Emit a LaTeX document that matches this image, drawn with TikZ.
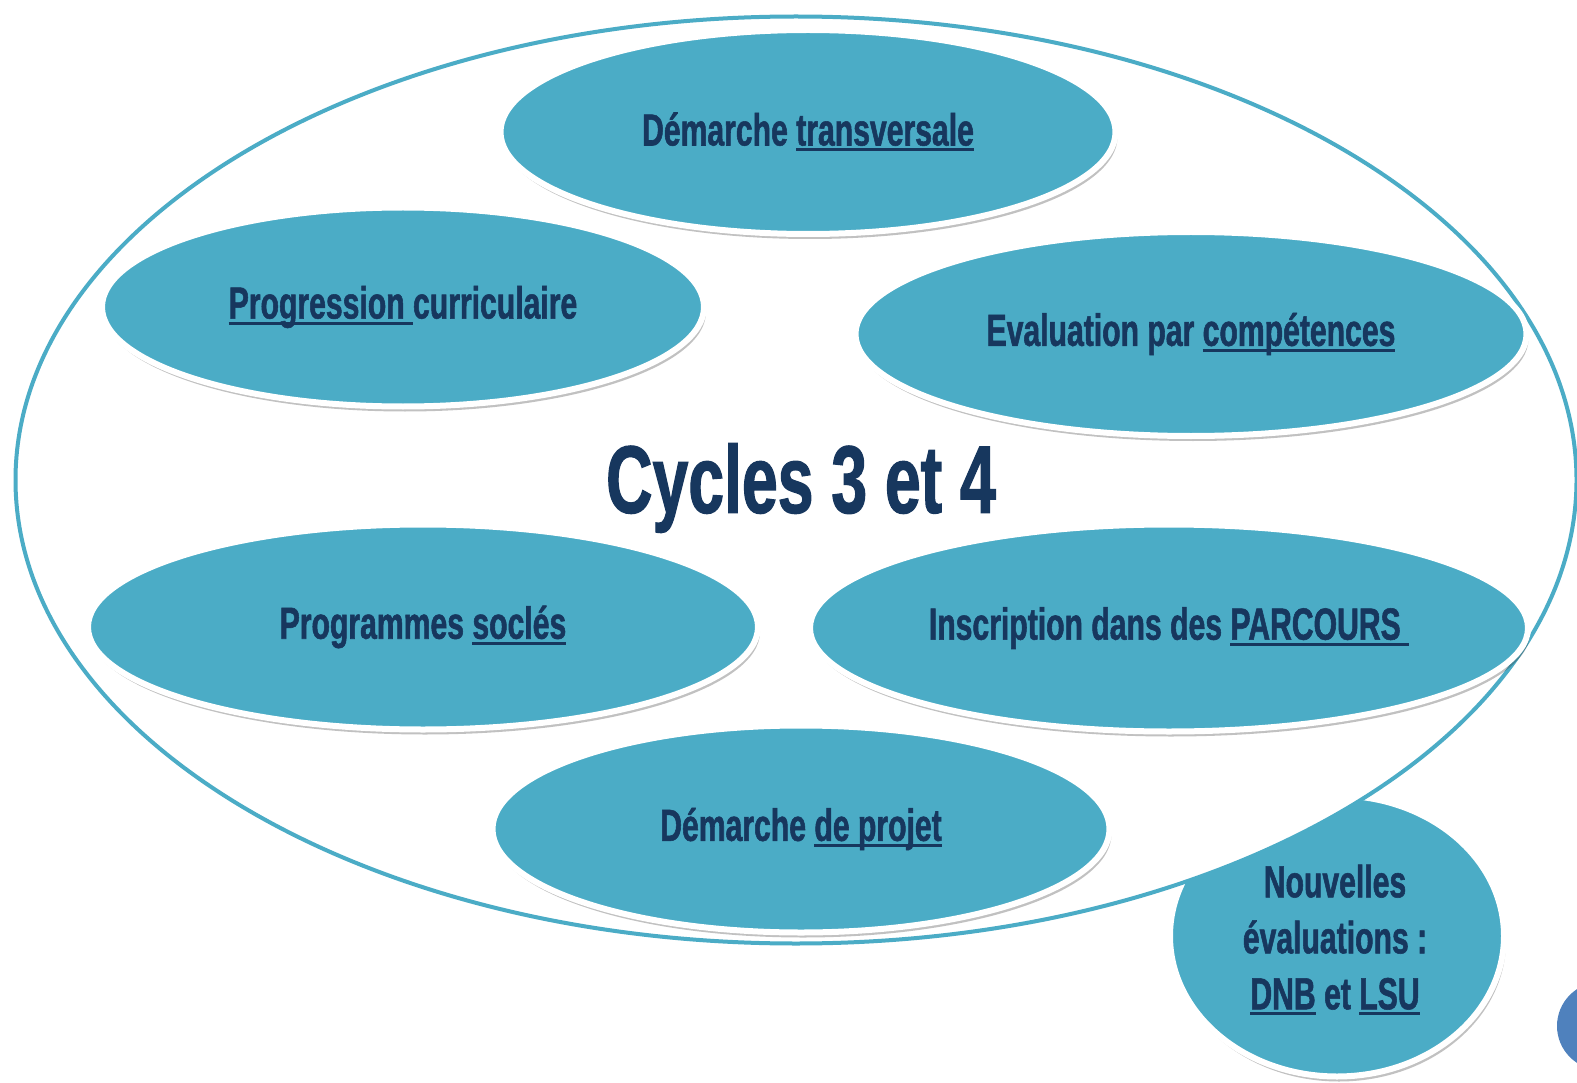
\documentclass[tikz,border=0pt]{standalone}
\usepackage{fontspec}
\newfontfamily\imp{Liberation Sans}[FakeStretch=0.67,FakeBold=1.2]
\usetikzlibrary{shapes.geometric,shadows}
\definecolor{fillblue}{HTML}{4BACC6}
\definecolor{txtblue}{HTML}{17375E}
\definecolor{dotblue}{HTML}{4F81BD}
\newcommand\ulx[1]{\sbox0{#1}\rlap{\rule[-6pt]{\wd0}{3pt}}\usebox0}
\begin{document}
\begin{tikzpicture}[x=1pt,y=-1pt,
  bubble/.style={ellipse, fill=fillblue, draw=white, line width=6pt, inner sep=0pt,
    text=txtblue, font=\imp\bfseries\fontsize{45}{56}\selectfont, align=center,
    drop shadow={shadow xshift=2pt, shadow yshift=-5pt, opacity=0.3, fill=black!80}},
  outer/.style={ellipse, fill=white, draw=fillblue, line width=4pt, inner sep=0pt}]
\useasboundingbox (0,0) rectangle (1577,1083);
\fill[white] (0,0) rectangle (1577,1083);
% circle behind outer ellipse
\node[bubble, minimum width=334pt, minimum height=281pt] (nouv) at (1337,936) {};
% outer ellipse
\node[outer, minimum width=1561pt, minimum height=927pt] (cyc) at (796,480) {};
\node[font=\imp\bfseries\fontsize{45}{56}\selectfont, text=txtblue, align=center] (nouvt) at (1335,940)
  {Nouvelles\\évaluations :\\\ulx{DNB} et \ulx{LSU}};
% inner ellipses
\node[bubble, minimum width=615pt, minimum height=204pt] (e1) at (808,132) {Démarche \ulx{transversale}};
\node[bubble, minimum width=602pt, minimum height=199pt] (e2) at (403,307) {\ulx{Progression }curriculaire};
\node[bubble, minimum width=671pt, minimum height=204pt] (e3) at (1191,334) {Evaluation par \ulx{compétences}};
\node[bubble, minimum width=670pt, minimum height=205pt] (e4) at (423,627) {Programmes \ulx{soclés}};
\node[bubble, minimum width=718pt, minimum height=207pt] (e5) at (1169,628) {Inscription dans des \ulx{PARCOURS }};
\node[bubble, minimum width=617pt, minimum height=207pt] (e6) at (801,829) {Démarche \ulx{de projet}};
% title
\node[text=txtblue, font=\imp\bfseries\fontsize{96}{100}\selectfont, inner sep=0pt] (title) at (801,488) {Cycles 3 et 4};
% partial dot at bottom right
\fill[dotblue] (1601,1026) circle (44);
\end{tikzpicture}
\end{document}
